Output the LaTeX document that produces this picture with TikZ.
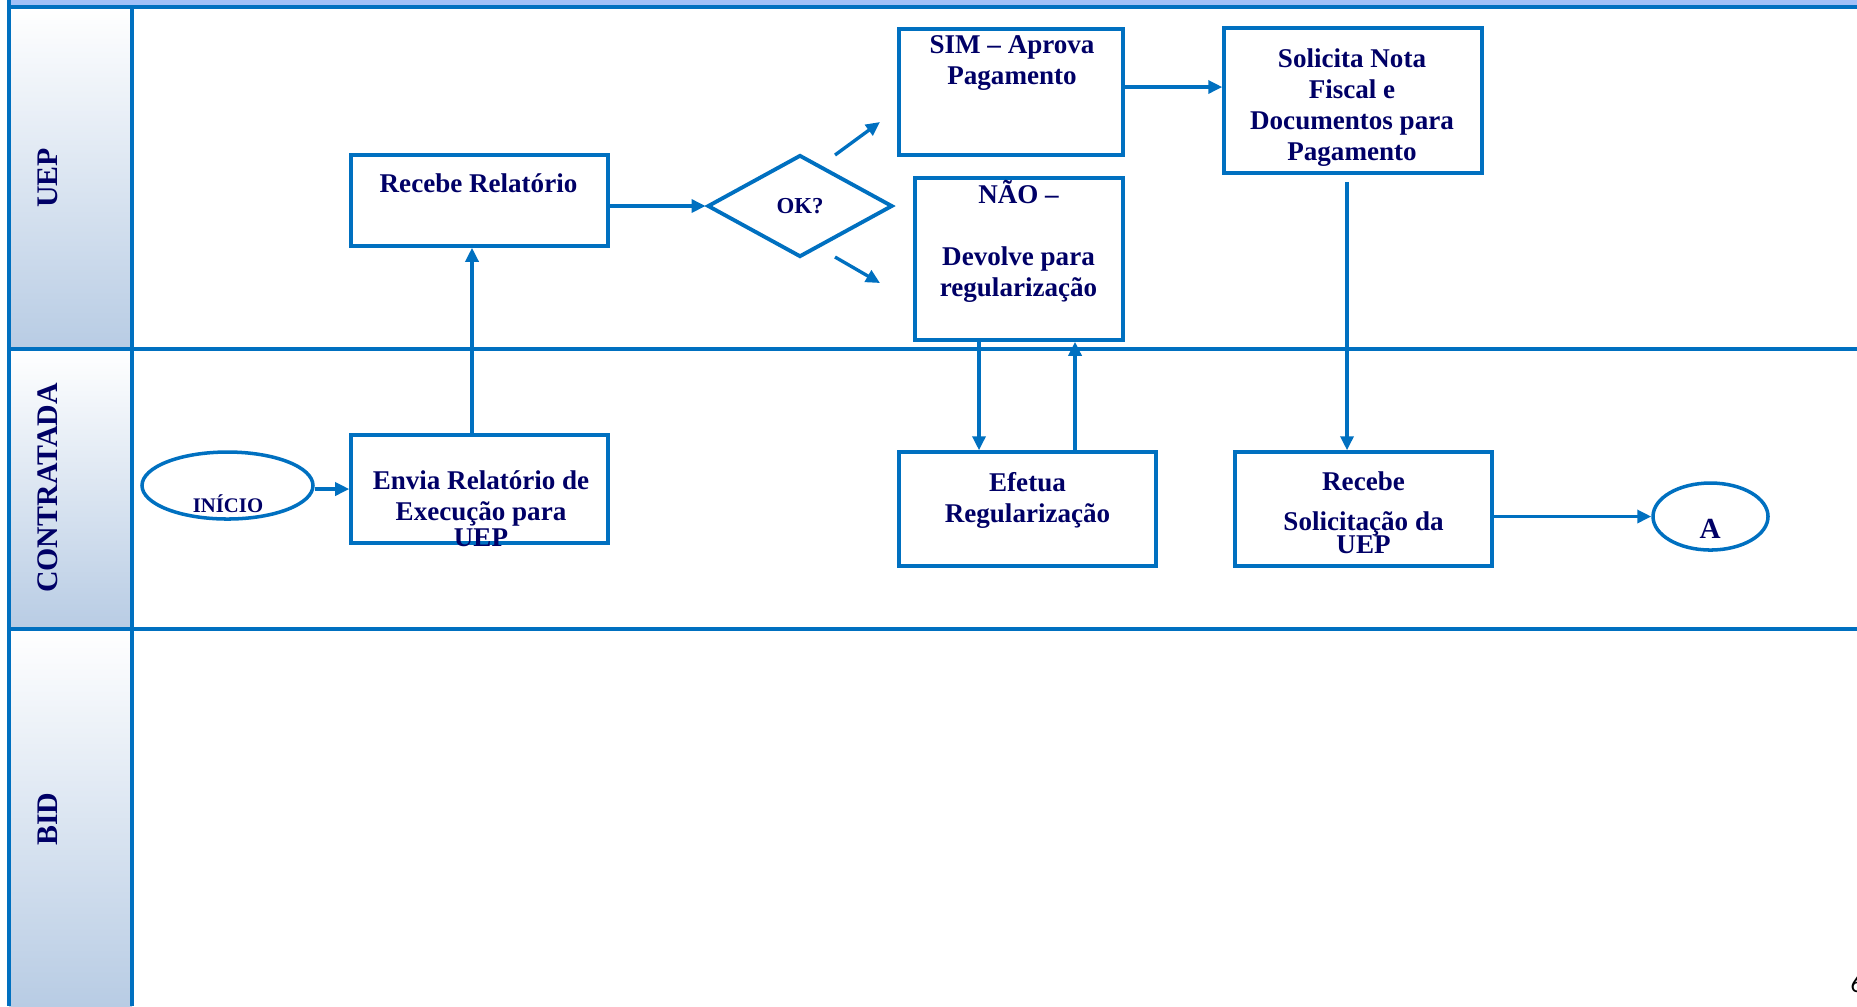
\documentclass[tikz,border=0pt]{standalone}
\usepackage{fontspec}
\setmainfont{Liberation Serif}
\newfontfamily\pagefont{Carlito}
\usetikzlibrary{shapes.geometric,arrows.meta}
\definecolor{laneblue}{RGB}{0,112,192}
\definecolor{navy}{RGB}{0,0,102}
\definecolor{hdrblue}{RGB}{184,204,228}
\definecolor{bandblue}{RGB}{160,192,248}
\tikzset{
	lane/.style={draw=laneblue,line width=1.15pt},
	box/.style={draw=laneblue,line width=1pt,rectangle,inner sep=0pt},
	oval/.style={draw=laneblue,line width=1pt,ellipse,inner sep=0pt},
	txt/.style={text=navy,font=\bfseries\fontsize{7.7}{8.8}\selectfont,align=center,inner sep=0pt},
	hdr/.style={text=navy,font=\bfseries\fontsize{8.5}{10}\selectfont,rotate=90,inner sep=0pt},
	flow/.style={draw=laneblue,line width=0.95pt,-{Triangle[length=0.14cm,width=0.13cm]}},
}

\begin{document}
\begin{tikzpicture}
	\useasboundingbox (0,0) rectangle (18.57,-10.06);
	\fill[bandblue] (0.09,0) rectangle (18.57,-0.07);
	\shade[top color=white,bottom color=hdrblue] (0.09,-0.07) rectangle (1.32,-3.49);
	\shade[top color=white,bottom color=hdrblue] (0.09,-3.49) rectangle (1.32,-6.29);
	\shade[top color=white,bottom color=hdrblue] (0.09,-6.29) rectangle (1.32,-10.06);
	\draw[lane] (0.09,-0.07) -- (18.57,-0.07);
	\draw[lane] (0.09,-3.49) -- (18.57,-3.49);
	\draw[lane] (0.09,-6.29) -- (18.57,-6.29);
	\draw[lane] (0.09,0) -- (0.09,-10.06);
	\draw[lane] (1.32,-0.07) -- (1.32,-10.06);
	\node[hdr] (uep) at (0.48,-1.78) {UEP};
	\node[hdr] (contratada) at (0.48,-4.88) {CONTRATADA};
	\node[hdr] (bid) at (0.48,-8.19) {BID};

	\node[box,minimum width=2.57cm,minimum height=0.91cm] (recrel) at (4.795,-2.005) {};
	\node[txt,anchor=base] (recrelt) at (4.785,-1.92) {Recebe Relatório};
	\node[diamond,draw=laneblue,line width=1.1pt,minimum width=1.85cm,minimum height=1.02cm,inner sep=0pt,text=navy,font=\bfseries\fontsize{6.5}{8}\selectfont] (ok) at (8.00,-2.06) {OK?};
	\node[box,minimum width=2.24cm,minimum height=1.26cm] (sim) at (10.11,-0.92) {};
	\node[txt] (simt) at (10.12,-0.632) {SIM – Aprova\\Pagamento};
	\node[box,minimum width=2.08cm,minimum height=1.62cm] (nao) at (10.19,-2.59) {};
	\node[txt] (naot) at (10.185,-2.41) {NÃO –\\[8.8pt]Devolve para\\regularização};
	\node[box,minimum width=2.58cm,minimum height=1.45cm] (sol) at (13.53,-1.005) {};
	\node[txt] (solt) at (13.52,-1.077) {Solicita Nota\\Fiscal e\\Documentos para\\Pagamento};

	\node[oval,minimum width=1.71cm,minimum height=0.67cm] (ini) at (2.275,-4.855) {};
	\node[txt,font=\bfseries\fontsize{5.9}{7}\selectfont,anchor=base] (init) at (2.28,-5.12) {INÍCIO};
	\node[box,minimum width=2.57cm,minimum height=1.08cm] (env) at (4.795,-4.89) {};
	\node[txt] (envt) at (4.81,-5.085) {Envia Relatório de\\Execução para\\[-1.5pt]UEP};
	\node[box,minimum width=2.57cm,minimum height=1.14cm] (efe) at (10.275,-5.09) {};
	\node[txt] (efet) at (10.275,-5.00) {Efetua\\Regularização};
	\node[box,minimum width=2.57cm,minimum height=1.14cm] (recsol) at (13.635,-5.09) {};
	\node[txt] (recsolt) at (13.635,-5.13) {Recebe\\[2.6pt]Solicitação da\\[-2.3pt]UEP};
	\node[oval,minimum width=1.15cm,minimum height=0.67cm] (conA) at (17.105,-5.165) {};
	\node[txt,font=\bfseries\fontsize{8.3}{10}\selectfont,anchor=base] (conAt) at (17.10,-5.38) {A};

	\draw[flow] (ini.east |- env.west) -- (env.west);
	\draw[flow] ([xshift=-0.075cm]env.north) -- ([xshift=-0.075cm]recrel.south);
	\draw[flow] (recrel.east |- ok.west) -- (ok.west);
	\coordinate (simA) at (8.35,-1.55);
	\coordinate (simB) at (8.80,-1.22);
	\draw[flow] (simA) -- (simB);
	\coordinate (naoA) at (8.35,-2.57);
	\coordinate (naoB) at (8.80,-2.83);
	\draw[flow] (naoA) -- (naoB);
	\coordinate (simout) at ([yshift=0.05cm]sim.east);
	\draw[flow] (simout) -- (simout -| sol.west);
	\coordinate (naodn) at ([xshift=-0.40cm]nao.south);
	\draw[flow] (naodn) -- (naodn |- efe.north);
	\coordinate (naoup) at ([xshift=0.56cm]nao.south);
	\draw[flow] (naoup |- efe.north) -- (naoup);
	\coordinate (solout) at ([xshift=-0.06cm,yshift=-0.07cm]sol.south);
	\draw[flow] (solout) -- (solout |- recsol.north);
	\draw[flow] (recsol.east |- conA.west) -- (conA.west);

	\node[font=\pagefont\fontsize{7.1}{8}\selectfont,anchor=base west,inner sep=0pt] (pagenum) at (18.50,-9.92) {6};
\end{tikzpicture}
\end{document}
